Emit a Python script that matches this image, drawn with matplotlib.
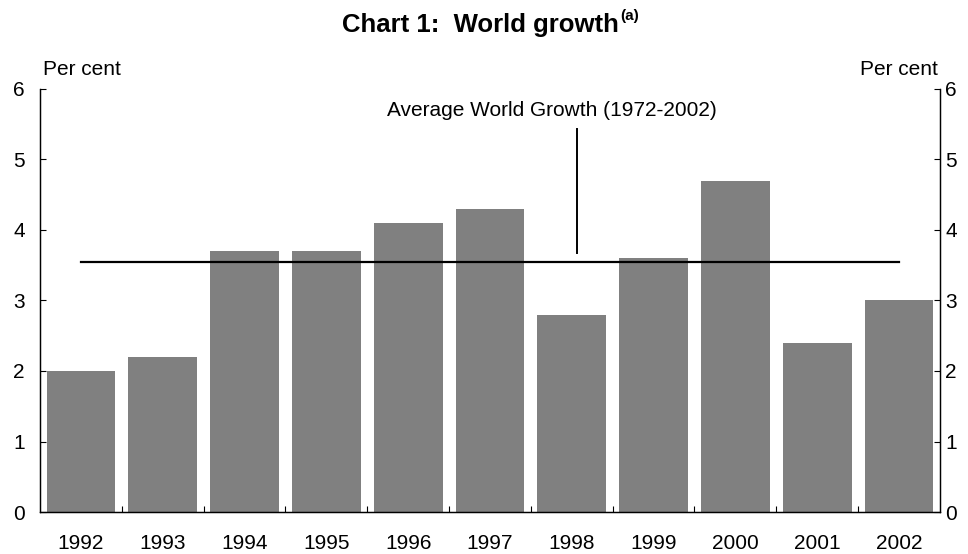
import matplotlib.pyplot as plt
import numpy as np

plt.rcParams['font.family'] = ['Liberation Sans', 'DejaVu Sans']

# World GDP growth, per cent
years = ['1992', '1993', '1994', '1995', '1996', '1997', '1998', '1999', '2000', '2001', '2002']
growth = [2.0, 2.2, 3.7, 3.7, 4.1, 4.3, 2.8, 3.6, 4.7, 2.4, 3.0]
avg_growth = 3.55
avg_label = 'Average World Growth (1972-2002)'

fig = plt.figure(figsize=(9.68, 5.54), dpi=100)
ax = fig.add_axes([0.0413, 0.0758, 0.9297, 0.7636])

x = np.arange(len(years))
ax.bar(x, growth, width=0.84, color='#808080', zorder=2)

# average line across the bar centres, plus the pointer to its label
ax.plot([x[0], x[-1]], [avg_growth, avg_growth], color='black', lw=1.6, zorder=3)
px = years.index('1998') + 0.07
ax.plot([px, px], [avg_growth + 0.12, 5.43], color='black', lw=1.4, zorder=3)
ax.text(5.76, 5.70, avg_label, ha='center', va='center', fontsize=15)

ax.set_xlim(-0.5, len(years) - 0.5)
ax.set_ylim(0, 6)
ax.set_xticks(x)
ax.set_xticklabels(years)
ax.set_xticks(np.arange(0.5, len(years) - 1, 1.0), minor=True)
ax.tick_params(axis='x', which='major', length=0, pad=16, labelsize=15)
ax.tick_params(axis='x', which='minor', direction='in', length=4.5, width=0.8)

ax.set_yticks(range(0, 7))
ax.tick_params(axis='y', direction='in', length=4, width=0.8, labelsize=15,
               left=True, right=True, labelleft=True, labelright=False, pad=11)
ax2 = ax.twinx()
ax2.set_ylim(0, 6)
ax2.set_yticks(range(0, 7))
ax2.tick_params(axis='y', direction='in', length=4, width=0.8, labelsize=15, pad=4)

for a in (ax, ax2):
    a.spines['top'].set_visible(False)
    for s in ('left', 'right', 'bottom'):
        a.spines[s].set_linewidth(0.9)

ax.text(0.003, 1.045, 'Per cent', transform=ax.transAxes, ha='left', va='center', fontsize=15)
ax.text(0.998, 1.045, 'Per cent', transform=ax.transAxes, ha='right', va='center', fontsize=15)

# title with a separate superscript footnote marker
title = fig.text(0.496, 0.955, 'Chart 1:  World growth', ha='center', va='center',
                 fontsize=18.5, fontweight='bold')
renderer = fig.canvas.get_renderer()
bb = title.get_window_extent(renderer).transformed(fig.transFigure.inverted())
fig.text(bb.x1 + 0.002, 0.958, '(a)', ha='left', va='bottom', fontsize=11, fontweight='bold')

fig.savefig('out.png', dpi=100)
